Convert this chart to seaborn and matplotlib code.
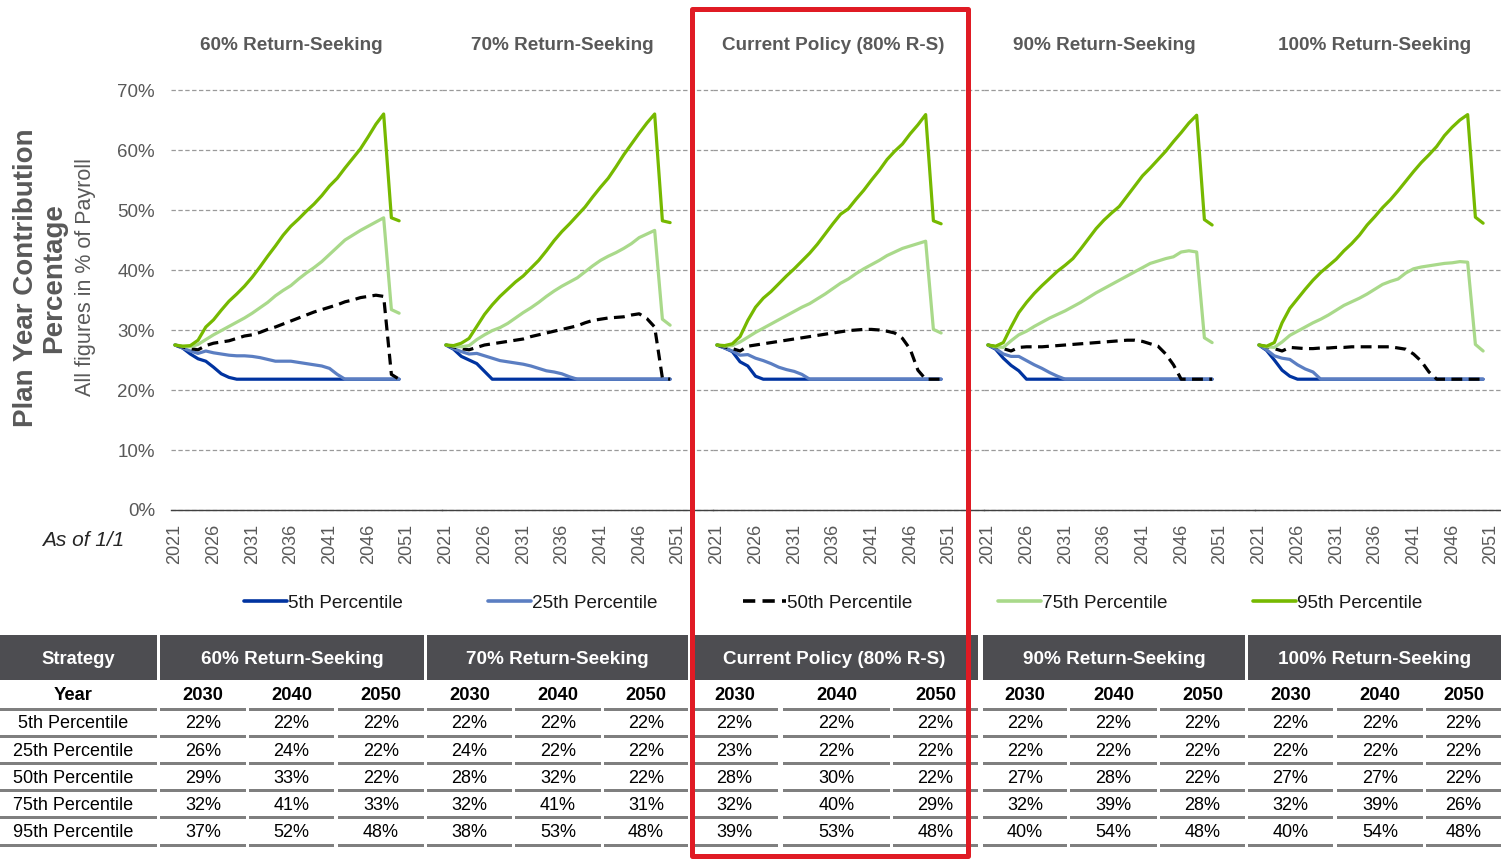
import matplotlib
matplotlib.use("Agg")
import numpy as np
import pandas as pd
import matplotlib.pyplot as plt
import seaborn as sns
from matplotlib.lines import Line2D
from matplotlib.patches import Rectangle
from matplotlib.transforms import blended_transform_factory

sns.set_theme(style="white")
plt.rcParams["font.family"] = ["Liberation Sans", "DejaVu Sans"]

# ---------------- data ----------------
years = list(range(2021, 2051))
strategies = ["60% Return-Seeking", "70% Return-Seeking", "Current Policy (80% R-S)",
              "90% Return-Seeking", "100% Return-Seeking"]
percentiles = ["5th Percentile", "25th Percentile", "50th Percentile",
               "75th Percentile", "95th Percentile"]

F = 21.8  # contribution floor

# 60% Return-Seeking
s60_p5 = [27.5, 27.0, 26.0, 25.2, 24.8, 23.8, 22.7, 22.1, 21.8] + [F] * 21
s60_p25 = [27.5, 27.0, 26.5, 26.1, 26.5, 26.2, 26.0, 25.8, 25.7, 25.7, 25.6, 25.4, 25.1, 24.8,
           24.8, 24.8, 24.6, 24.4, 24.2, 24.0, 23.6, 22.6, 21.8] + [F] * 7
s60_p50 = [27.5, 27.2, 26.9, 26.7, 27.4, 27.8, 28.0, 28.2, 28.6, 29.0, 29.2, 29.6, 30.1, 30.5,
           31.0, 31.5, 32.0, 32.5, 33.0, 33.4, 33.8, 34.2, 34.7, 35.0, 35.4, 35.6, 35.8, 35.6,
           22.6, 21.8]
s60_p75 = [27.5, 27.3, 27.2, 27.6, 28.4, 29.2, 29.9, 30.6, 31.3, 32.0, 32.8, 33.7, 34.6, 35.7,
           36.6, 37.4, 38.5, 39.5, 40.4, 41.4, 42.6, 43.8, 45.0, 45.8, 46.6, 47.3, 48.0, 48.7,
           33.4, 32.8]
s60_p95 = [27.5, 27.3, 27.4, 28.3, 30.5, 31.7, 33.3, 34.8, 36.0, 37.3, 38.8, 40.5, 42.3, 44.0,
           45.8, 47.3, 48.5, 49.8, 51.0, 52.4, 54.0, 55.3, 57.0, 58.6, 60.2, 62.2, 64.3, 66.0,
           48.7, 48.2]

# 70% Return-Seeking
s70_p5 = [27.5, 26.8, 25.6, 25.0, 24.4, 23.1] + [F] * 24
s70_p25 = [27.5, 26.9, 26.4, 26.0, 26.1, 25.7, 25.3, 24.9, 24.7, 24.5, 24.3, 24.0, 23.6, 23.2,
           23.0, 22.7, 22.2] + [F] * 13
s70_p50 = [27.5, 27.2, 26.9, 26.7, 27.1, 27.5, 27.7, 27.9, 28.1, 28.3, 28.5, 28.9, 29.2, 29.5,
           29.8, 30.1, 30.4, 30.7, 31.2, 31.6, 31.8, 32.0, 32.1, 32.2, 32.5, 32.7, 31.9, 30.5,
           22.0, 21.8]
s70_p75 = [27.5, 27.3, 27.2, 27.4, 28.4, 29.2, 29.9, 30.4, 31.1, 32.0, 32.9, 33.7, 34.6, 35.6,
           36.5, 37.3, 38.0, 38.7, 39.7, 40.7, 41.6, 42.3, 42.9, 43.6, 44.4, 45.4, 46.0, 46.6,
           31.8, 30.8]
s70_p95 = [27.5, 27.4, 27.8, 28.6, 30.6, 32.6, 34.2, 35.6, 36.8, 38.0, 39.0, 40.3, 41.6, 43.2,
           44.9, 46.4, 47.7, 49.1, 50.5, 52.2, 53.8, 55.3, 57.2, 59.2, 61.0, 62.8, 64.5, 66.0,
           48.2, 47.9]

# Current Policy (80% R-S)
s80_p5 = [27.5, 27.0, 26.4, 24.7, 24.0, 22.3] + [F] * 24
s80_p25 = [27.5, 27.0, 26.5, 25.8, 25.9, 25.3, 24.9, 24.4, 23.8, 23.4, 23.1, 22.6] + [F] * 18
s80_p50 = [27.5, 27.2, 26.9, 26.5, 27.3, 27.5, 27.7, 27.9, 28.1, 28.3, 28.5, 28.7, 28.9, 29.1,
           29.3, 29.5, 29.7, 29.9, 30.0, 30.1, 30.1, 30.0, 29.8, 29.5, 28.6, 26.8, 23.3, 21.8,
           21.8, 21.8]
s80_p75 = [27.5, 27.3, 27.4, 28.0, 28.8, 29.6, 30.3, 31.0, 31.7, 32.4, 33.1, 33.8, 34.4, 35.2,
           36.0, 36.9, 37.8, 38.5, 39.4, 40.2, 40.9, 41.6, 42.4, 43.0, 43.6, 44.0, 44.4, 44.8,
           30.1, 29.5]
s80_p95 = [27.5, 27.4, 27.7, 28.9, 31.6, 33.8, 35.3, 36.4, 37.7, 39.0, 40.2, 41.5, 42.8, 44.3,
           46.0, 47.7, 49.3, 50.2, 51.8, 53.3, 55.0, 56.6, 58.4, 59.8, 61.0, 62.7, 64.2, 65.9,
           48.2, 47.7]

# 90% Return-Seeking
s90_p5 = [27.5, 26.8, 25.3, 24.1, 23.2] + [F] * 25
s90_p25 = [27.5, 26.9, 26.0, 25.6, 25.6, 24.9, 24.2, 23.6, 22.9, 22.3] + [F] * 20
s90_p50 = [27.5, 27.2, 26.9, 26.5, 27.1, 27.2, 27.2, 27.2, 27.3, 27.4, 27.5, 27.6, 27.7, 27.8,
           27.9, 28.0, 28.1, 28.2, 28.3, 28.3, 28.1, 27.7, 27.3, 26.0, 24.2] + [F] * 5
s90_p75 = [27.5, 27.2, 27.1, 28.2, 29.2, 29.8, 30.6, 31.3, 32.0, 32.6, 33.2, 33.9, 34.6, 35.4,
           36.2, 36.9, 37.6, 38.3, 39.0, 39.7, 40.4, 41.1, 41.5, 41.9, 42.2, 43.0, 43.2, 43.0,
           28.7, 27.9]
s90_p95 = [27.5, 27.3, 27.9, 30.5, 32.9, 34.6, 36.1, 37.4, 38.6, 39.8, 40.8, 41.9, 43.5, 45.2,
           46.9, 48.3, 49.5, 50.6, 52.3, 54.0, 55.7, 57.0, 58.4, 59.8, 61.4, 62.9, 64.5, 65.8,
           48.4, 47.5]

# 100% Return-Seeking
s100_p5 = [27.5, 26.6, 25.0, 23.3, 22.3] + [F] * 25
s100_p25 = [27.5, 26.7, 25.7, 25.3, 25.1, 24.2, 23.5, 23.0] + [F] * 22
s100_p50 = [27.5, 27.2, 26.9, 26.5, 27.1, 27.0, 26.9, 26.9, 27.0, 27.0, 27.1, 27.1, 27.2, 27.2,
            27.2, 27.2, 27.2, 27.2, 27.0, 26.8, 26.0, 24.8, 23.0] + [F] * 7
s100_p75 = [27.5, 27.2, 27.1, 28.0, 29.1, 29.8, 30.5, 31.2, 31.8, 32.5, 33.3, 34.1, 34.7, 35.3,
            36.0, 36.8, 37.6, 38.1, 38.5, 39.5, 40.2, 40.5, 40.7, 40.9, 41.1, 41.2, 41.4, 41.3,
            27.6, 26.5]
s100_p95 = [27.5, 27.3, 27.9, 31.2, 33.6, 35.2, 36.8, 38.3, 39.6, 40.7, 41.8, 43.2, 44.4, 45.8,
            47.5, 48.9, 50.4, 51.7, 53.2, 54.8, 56.4, 57.9, 59.2, 60.6, 62.4, 63.8, 65.0, 65.9,
            48.8, 47.8]

series = [
    [s60_p5, s60_p25, s60_p50, s60_p75, s60_p95],
    [s70_p5, s70_p25, s70_p50, s70_p75, s70_p95],
    [s80_p5, s80_p25, s80_p50, s80_p75, s80_p95],
    [s90_p5, s90_p25, s90_p50, s90_p75, s90_p95],
    [s100_p5, s100_p25, s100_p50, s100_p75, s100_p95],
]

# Table values (rows = percentiles, cols = 2030, 2040, 2050)
table_years = ["2030", "2040", "2050"]
tbl_60 = [[22, 22, 22], [26, 24, 22], [29, 33, 22], [32, 41, 33], [37, 52, 48]]
tbl_70 = [[22, 22, 22], [24, 22, 22], [28, 32, 22], [32, 41, 31], [38, 53, 48]]
tbl_80 = [[22, 22, 22], [23, 22, 22], [28, 30, 22], [32, 40, 29], [39, 53, 48]]
tbl_90 = [[22, 22, 22], [22, 22, 22], [27, 28, 22], [32, 39, 28], [40, 54, 48]]
tbl_100 = [[22, 22, 22], [22, 22, 22], [27, 27, 22], [32, 39, 26], [40, 54, 48]]
tables = [tbl_60, tbl_70, tbl_80, tbl_90, tbl_100]

y_ticks = [0, 10, 20, 30, 40, 50, 60, 70]
x_ticks = [2021, 2026, 2031, 2036, 2041, 2046, 2051]

rows = []
for s, strat in enumerate(strategies):
    for p, pct in enumerate(percentiles):
        for y, v in zip(years, series[s][p]):
            rows.append((strat, pct, y, v))
df = pd.DataFrame(rows, columns=["Strategy", "Percentile", "Year", "Value"])

# ---------------- style ----------------
colors = {"5th Percentile": "#0033A0", "25th Percentile": "#5B7EC2",
          "50th Percentile": "#000000", "75th Percentile": "#A9D98A",
          "95th Percentile": "#76B900"}
dash_map = {"5th Percentile": "", "25th Percentile": "", "50th Percentile": (3.4, 2.0),
            "75th Percentile": "", "95th Percentile": ""}
GRAY = "#595959"
W, H = 1501, 860

def fx(px):
    return px / W

def fy(py):
    return 1 - py / H

fig = plt.figure(figsize=(W / 100, H / 100), dpi=100)

panel_px = [171, 442, 713, 984, 1255, 1500]
px_per_year = 7.733
y_top, y_bot = 90, 510

axes = []
for i, strat in enumerate(strategies):
    l, r = panel_px[i], panel_px[i + 1]
    ax = fig.add_axes([fx(l), fy(y_bot), (r - l) / W, (y_bot - y_top) / H])
    axes.append(ax)
    sub = df[df["Strategy"] == strat]
    sns.lineplot(data=sub, x="Year", y="Value", hue="Percentile", style="Percentile",
                 hue_order=percentiles, style_order=percentiles, palette=colors,
                 dashes=dash_map, linewidth=2.3, ax=ax, legend=False)
    ax.set_xlim(2020.5, 2020.5 + (r - l) / px_per_year)
    ax.set_ylim(0, 70)
    ax.set_yticks(y_ticks)
    ax.set_xticks(x_ticks)
    ax.set_xticklabels([str(t) for t in x_ticks], rotation=90, fontsize=13, color=GRAY)
    if i == 0:
        ax.set_yticklabels([f"{t}%" for t in y_ticks], fontsize=13.5, color=GRAY)
    else:
        ax.set_yticklabels([])
    ax.tick_params(axis="both", length=0)
    ax.tick_params(axis="x", pad=10)
    ax.tick_params(axis="y", pad=11.5)
    ax.set_xlabel("")
    ax.set_ylabel("")
    ax.grid(False)
    ax.yaxis.grid(True, linestyle=(0, (3.5, 2)), color="#9a9a9a", linewidth=0.9)
    ax.set_axisbelow(True)
    for gl in ax.get_ygridlines():
        gl.set_clip_on(False)
    for sp in ["left", "top", "right"]:
        ax.spines[sp].set_visible(False)
    ax.spines["bottom"].set_color("#404040")
    ax.spines["bottom"].set_linewidth(1.0)
    ax.patch.set_alpha(0)
    trans = blended_transform_factory(ax.transData, fig.transFigure)
    ax.text(2036, fy(46), strat, transform=trans, ha="center", va="center",
            fontsize=13.6, fontweight="bold", color=GRAY)

# axis titles
fig.text(fx(40), fy(278), "Plan Year Contribution\nPercentage", rotation=90,
         ha="center", va="center", fontsize=20, fontweight="bold", color=GRAY,
         linespacing=1.1, multialignment="center")
fig.text(fx(86), fy(277), "All figures in % of Payroll", rotation=90,
         ha="center", va="center", fontsize=15.5, color=GRAY)
fig.text(fx(83), fy(541), "As of 1/1", ha="center", va="center", fontsize=15,
         style="italic", color="#262626")

# legend
handles = []
for pct in percentiles:
    d = dash_map[pct]
    h = Line2D([], [], color=colors[pct], linewidth=2.6,
               linestyle=(0, d) if d else "-")
    handles.append(h)
fig.legend(handles, percentiles, loc="center", bbox_to_anchor=(fx(833), fy(603)),
           ncol=5, frameon=False, fontsize=13.6, handlelength=2.3, handletextpad=0.05,
           columnspacing=4.5, labelcolor="#1a1a1a")

# ---------------- table ----------------
HEAD = "#4D4D51"
head_top, head_bot = 635, 680
group_px = [(160, 424), (427, 688), (691, 978), (983, 1245), (1248, 1501)]
sub_px = [
    [(160, 246), (249, 334), (338, 424)],
    [(427, 512), (515, 601), (604, 688)],
    [(691, 778), (783, 890), (893, 978)],
    [(983, 1067), (1070, 1157), (1160, 1245)],
    [(1248, 1333), (1337, 1423), (1426, 1501)],
]
strat_col = (0, 157)

def rect(x0, x1, y0, y1, color, z=2):
    fig.patches.append(Rectangle((fx(x0), fy(y1)), (x1 - x0) / W, (y1 - y0) / H,
                                 transform=fig.transFigure, facecolor=color,
                                 edgecolor="none", zorder=z))

head_mid = (head_top + head_bot) / 2 + 1.5
rect(strat_col[0], strat_col[1], head_top, head_bot, HEAD)
fig.text(fx((strat_col[0] + strat_col[1]) / 2), fy(head_mid), "Strategy",
         ha="center", va="center", fontsize=13.2, fontweight="bold", color="white")
for g, (x0, x1) in enumerate(group_px):
    rect(x0, x1, head_top, head_bot, HEAD)
    fig.text(fx((x0 + x1) / 2), fy(head_mid), strategies[g],
             ha="center", va="center", fontsize=13.6, fontweight="bold", color="white")

line_ys = [709, 736.2, 763.4, 790.6, 817.8, 845]
row_centers = [696.0, 724.0, 751.2, 778.4, 805.6, 832.8]
all_cols = [strat_col] + [c for grp in sub_px for c in grp]
for ly in line_ys:
    for (x0, x1) in all_cols:
        rect(x0, x1, ly - 1.5, ly + 1.5, "#7F7F7F")

fig.text(fx(73), fy(row_centers[0]), "Year", ha="center", va="center",
         fontsize=13.2, fontweight="bold", color="black")
for p, pct in enumerate(percentiles):
    fig.text(fx(73), fy(row_centers[p + 1]), pct, ha="center", va="center",
             fontsize=13, color="black")
for g in range(5):
    for c, (x0, x1) in enumerate(sub_px[g]):
        cx = fx((x0 + x1) / 2)
        fig.text(cx, fy(row_centers[0]), table_years[c], ha="center", va="center",
                 fontsize=13.2, fontweight="bold", color="black")
        for p in range(5):
            fig.text(cx, fy(row_centers[p + 1]), f"{tables[g][p][c]}%", ha="center",
                     va="center", fontsize=13, color="black")

# red highlight box around current policy
fig.patches.append(Rectangle((fx(692), fy(856)), (968 - 692) / W, (856 - 8.5) / H,
                             transform=fig.transFigure, fill=False, edgecolor="#E01B24",
                             linewidth=3.6, joinstyle="round", zorder=20))

fig.savefig("out.png", dpi=100)
